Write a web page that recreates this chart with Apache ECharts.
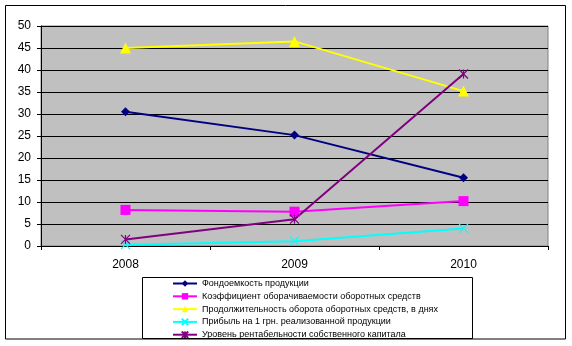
<!DOCTYPE html>
<html><head><meta charset="utf-8">
<script src="https://cdn.jsdelivr.net/npm/echarts@6/dist/echarts.min.js"></script>
<style>html,body{margin:0;padding:0;background:#fff}#c{width:572px;height:346px}</style>
</head><body><div id="c"></div>
<script>
var categories = ['2008', '2009', '2010'];
var seriesNames = [
  'Фондоемкость продукции',
  'Коэффициент оборачиваемости оборотных средств',
  'Продолжительность оборота оборотных средств, в днях',
  'Прибыль на 1 грн. реализованной продукции',
  'Уровень рентабельности собственного капитала'
];
var fondoemkost = [30.5, 25.2, 15.5];
var koefOborach = [8.2, 7.8, 10.2];
var prodolzhOborota = [45.0, 46.5, 35.2];
var pribyl = [0.3, 1.1, 4.0];
var rentabelnost = [1.5, 6.1, 39.1];
var yTicks = [0, 5, 10, 15, 20, 25, 30, 35, 40, 45, 50];

var colors = ['#000080', '#FF00FF', '#FFFF00', '#00FFFF', '#800080'];
var symbols = [
  'diamond', 'rect', 'triangle',
  'path://M0,0L10,10M10,0L0,10',
  'path://M0,0L10,10M10,0L0,10M5,0L5,10'
];
var sizes = [9, 10, 11, 9, 9];
var datas = [fondoemkost, koefOborach, prodolzhOborota, pribyl, rentabelnost];

var chart = echarts.init(document.getElementById('c'), null, {renderer: 'canvas'});
var series = datas.map(function (d, i) {
  var stroke = i >= 3;
  return {
    name: seriesNames[i], type: 'line', data: d,
    symbol: symbols[i], symbolSize: sizes[i], showAllSymbol: true,
    lineStyle: {color: colors[i], width: 2},
    itemStyle: {color: colors[i], borderColor: colors[i], borderWidth: stroke ? 1.2 : 0},
    z: 3
  };
});
chart.setOption({
  animation: false,
  textStyle: {fontFamily: 'Liberation Sans, Arial, sans-serif'},
  grid: {left: 41, top: 26, right: 24, bottom: 100, show: true, backgroundColor: '#C0C0C0', borderColor: '#808080', borderWidth: 1},
  xAxis: {
    type: 'category', data: categories, boundaryGap: true,
    axisLine: {lineStyle: {color: '#000', width: 1}},
    axisTick: {show: true, length: 4, interval: 0, alignWithLabel: false, lineStyle: {color: '#000'}},
    axisLabel: {color: '#000', fontSize: 12, margin: 13, fontFamily: 'Liberation Sans, Arial, sans-serif'},
    splitLine: {show: false}
  },
  yAxis: {
    type: 'value', min: yTicks[0], max: yTicks[yTicks.length - 1], interval: yTicks[1] - yTicks[0],
    axisLine: {show: true, lineStyle: {color: '#000', width: 1}},
    axisTick: {show: true, length: 4, lineStyle: {color: '#000'}},
    axisLabel: {color: '#000', fontSize: 12, margin: 10, fontFamily: 'Liberation Sans, Arial, sans-serif'},
    splitLine: {show: true, lineStyle: {color: '#000', width: 1}}
  },
  legend: {
    orient: 'vertical', left: 172, top: 279, itemWidth: 24, itemHeight: 8, itemGap: 3.8,
    padding: 0,
    textStyle: {color: '#000', fontSize: 9, fontFamily: 'Liberation Sans, Arial, sans-serif'},
    data: seriesNames
  },
  graphic: [
    {type: 'rect', shape: {x: 5.5, y: 5.5, width: 560, height: 333.5}, style: {fill: null, stroke: '#000', lineWidth: 1}, silent: true, z: -1},
    {type: 'rect', shape: {x: 142.5, y: 277.5, width: 330, height: 61}, style: {fill: null, stroke: '#000', lineWidth: 1}, silent: true, z: -1}
  ],
  series: series
});
</script></body></html>
